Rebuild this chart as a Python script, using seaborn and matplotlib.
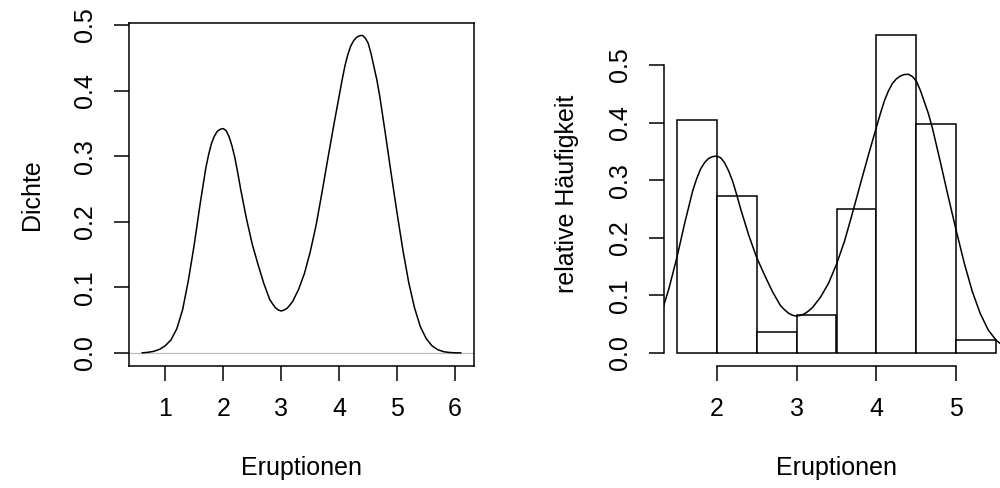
import matplotlib
matplotlib.use("Agg")
import matplotlib.pyplot as plt
import pandas as pd
import seaborn as sns

# Kernel density estimate of Old Faithful eruption durations (minutes)
grid_x = [0.6, 0.7, 0.8, 0.9, 1.0, 1.1, 1.2, 1.3, 1.4, 1.5,
          1.6, 1.7, 1.75, 1.8, 1.85, 1.9, 1.95, 2.0, 2.05, 2.1,
          2.15, 2.2, 2.25, 2.3, 2.4, 2.5, 2.6, 2.7, 2.8, 2.85,
          2.9, 2.95, 3.0, 3.05, 3.1, 3.15, 3.2, 3.3, 3.4, 3.5,
          3.6, 3.7, 3.8, 3.9, 3.95, 4.0, 4.05, 4.1, 4.15, 4.2,
          4.25, 4.3, 4.35, 4.4, 4.45, 4.5, 4.55, 4.6, 4.65, 4.7,
          4.8, 4.9, 5.0, 5.1, 5.2, 5.3, 5.4, 5.5, 5.6, 5.7,
          5.8, 5.9, 6.0, 6.1]
dens_y = [0.0003, 0.001, 0.0025, 0.0055, 0.011, 0.020, 0.037, 0.066, 0.111, 0.165,
          0.226, 0.282, 0.303, 0.320, 0.331, 0.338, 0.341, 0.342, 0.339, 0.330,
          0.316, 0.298, 0.275, 0.250, 0.205, 0.166, 0.135, 0.106, 0.082, 0.075,
          0.069, 0.0655, 0.064, 0.0655, 0.068, 0.073, 0.079, 0.097, 0.121, 0.154,
          0.194, 0.243, 0.294, 0.344, 0.368, 0.392, 0.416, 0.438, 0.455, 0.468,
          0.476, 0.481, 0.4835, 0.484, 0.480, 0.472, 0.456, 0.436, 0.416, 0.391,
          0.332, 0.271, 0.212, 0.156, 0.107, 0.0685, 0.040, 0.022, 0.011, 0.005,
          0.002, 0.0008, 0.0003, 0.0002]

# Histogram of the same durations
bin_edges = [1.5, 2.0, 2.5, 3.0, 3.5, 4.0, 4.5, 5.0, 5.5]
bin_counts = [55, 37, 5, 9, 34, 75, 54, 3]

left_xticks = [1, 2, 3, 4, 5, 6]
right_xticks = [2, 3, 4, 5]
yticks = [0.0, 0.1, 0.2, 0.3, 0.4, 0.5]
ytick_labels = ["0.0", "0.1", "0.2", "0.3", "0.4", "0.5"]

x_label = "Eruptionen"
left_ylabel = "Dichte"
right_ylabel = "relative Häufigkeit"

sns.set_theme(style="ticks")
plt.rcParams["font.family"] = ["Liberation Sans", "DejaVu Sans"]

FS = 18
LW = 1.1

dens_df = pd.DataFrame({"x": grid_x, "y": dens_y})
mids = [(a + b) / 2 for a, b in zip(bin_edges[:-1], bin_edges[1:])]
hist_df = pd.DataFrame({"x": mids, "n": bin_counts})

fig = plt.figure(figsize=(10, 4.88), dpi=100)
ax1 = fig.add_axes([0.129, 0.2506, 0.345, 0.7029])
ax2 = fig.add_axes([0.664, 0.2506, 0.345, 0.7029])


def r_range(lo, hi):
    pad = (hi - lo) * 0.04
    return lo - pad, hi + pad


def style_axis(ax):
    ax.tick_params(axis="both", which="major", direction="out", length=10.8,
                   width=LW, pad=12, labelsize=FS, color="black",
                   labelcolor="black")
    ax.tick_params(axis="y", labelrotation=90)
    for lab in ax.get_yticklabels():
        lab.set_va("center")
    ax.set_facecolor("white")


# Left panel: density curve with a box
ax1.axhline(0, color="#bebebe", lw=0.9, zorder=1)
sns.lineplot(data=dens_df, x="x", y="y", ax=ax1, color="black", lw=LW,
             zorder=2)
ax1.set_xlim(*r_range(min(grid_x) - 0.0043, max(grid_x) + 0.0043))
ax1.set_ylim(*r_range(0, max(dens_y)))
ax1.set_xticks(left_xticks)
ax1.set_xticklabels([str(t) for t in left_xticks])
ax1.set_yticks(yticks)
ax1.set_yticklabels(ytick_labels)
for sp in ax1.spines.values():
    sp.set_visible(True)
    sp.set_color("black")
    sp.set_linewidth(LW)
style_axis(ax1)
ax1.set_xlabel(x_label, fontsize=FS, labelpad=25, color="black")
ax1.set_ylabel(left_ylabel, fontsize=FS, labelpad=21, color="black")

# Right panel: histogram on the density scale with the curve on top
sns.histplot(data=hist_df, x="x", weights="n", bins=bin_edges, stat="density",
             ax=ax2, color="white", edgecolor="black", linewidth=LW, alpha=1,
             zorder=1)
sns.lineplot(data=dens_df, x="x", y="y", ax=ax2, color="black", lw=LW,
             zorder=3)
ax2.set_xlim(*r_range(bin_edges[0], bin_edges[-1]))
ax2.set_ylim(*r_range(0, max(c / (sum(bin_counts) * 0.5) for c in bin_counts)))
ax2.set_xticks(right_xticks)
ax2.set_xticklabels([str(t) for t in right_xticks])
ax2.set_yticks(yticks)
ax2.set_yticklabels(ytick_labels)
ax2.spines["top"].set_visible(False)
ax2.spines["right"].set_visible(False)
ax2.spines["left"].set_bounds(yticks[0], yticks[-1])
ax2.spines["bottom"].set_bounds(right_xticks[0], right_xticks[-1])
for side in ("left", "bottom"):
    ax2.spines[side].set_color("black")
    ax2.spines[side].set_linewidth(LW)
style_axis(ax2)
ax2.set_xlabel(x_label, fontsize=FS, labelpad=25, color="black")
ax2.set_ylabel(right_ylabel, fontsize=FS, labelpad=21, color="black")

fig.savefig("out.png", dpi=100, facecolor="white")
